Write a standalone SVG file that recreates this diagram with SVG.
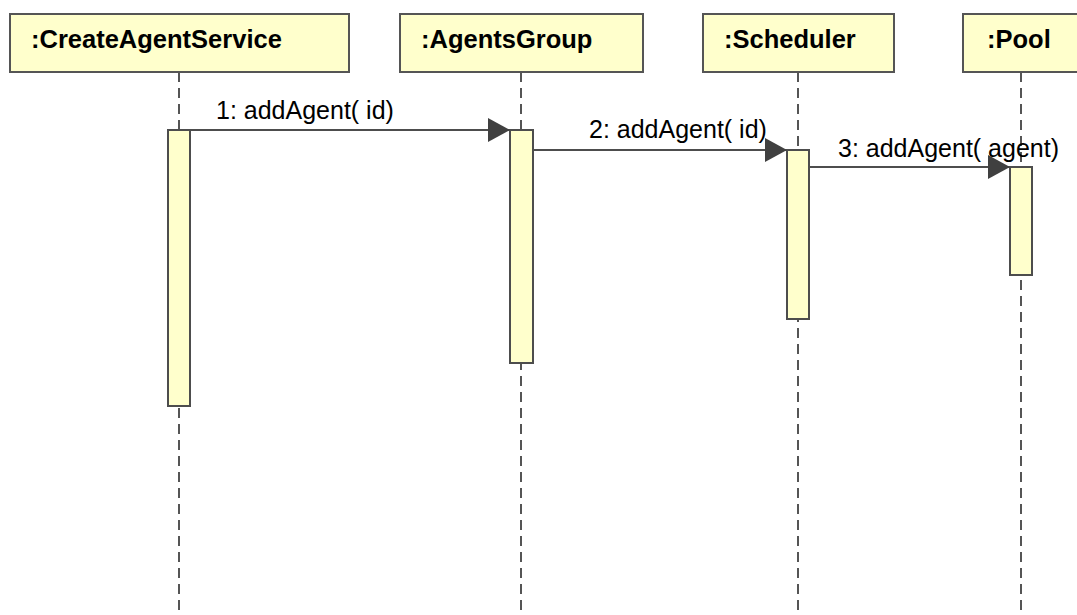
<svg xmlns="http://www.w3.org/2000/svg" width="1077" height="615" viewBox="0 0 1077 615">
  <style>
    .head { fill: #ffffcc; stroke: #555555; stroke-width: 2; }
    .act { fill: #ffffcc; stroke: #4d4d4d; stroke-width: 2; }
    .life { stroke: #555555; stroke-width: 2; stroke-dasharray: 10 6; fill: none; }
    .msg { stroke: #4d4d4d; stroke-width: 2; fill: none; marker-end: url(#arrow); }
    .title { font-family: "Liberation Sans", Arial, sans-serif; font-size: 25.5px; font-weight: bold; fill: #000; }
    .label { font-family: "Liberation Sans", Arial, sans-serif; font-size: 25px; fill: #000; }
  </style>
  <defs>
    <marker id="arrow" markerUnits="userSpaceOnUse" markerWidth="24" markerHeight="26" refX="22" refY="12" orient="auto">
      <path d="M0,0 L22,12 L0,24 Z" fill="#404040"/>
    </marker>
  </defs>
  <rect width="1077" height="615" fill="#ffffff"/>

  <!-- lifeline heads, dashed lines and activation bars -->
  <g id="createAgentService">
    <line class="life" x1="179" y1="72" x2="179" y2="615"/>
    <rect class="head" x="10" y="14" width="339" height="58"/>
    <text class="title" x="31" y="48">:CreateAgentService</text>
    <rect class="act" x="168" y="130" width="22" height="276"/>
  </g>
  <g id="agentsGroup">
    <line class="life" x1="521" y1="72" x2="521" y2="615"/>
    <rect class="head" x="400" y="14" width="243" height="58"/>
    <text class="title" x="421" y="48">:AgentsGroup</text>
    <rect class="act" x="510" y="130" width="23" height="233"/>
  </g>
  <g id="scheduler">
    <line class="life" x1="798" y1="72" x2="798" y2="615"/>
    <rect class="head" x="703" y="14" width="191" height="58"/>
    <text class="title" x="724" y="48">:Scheduler</text>
    <rect class="act" x="787" y="150" width="22" height="169"/>
  </g>
  <g id="pool">
    <line class="life" x1="1021" y1="72" x2="1021" y2="615"/>
    <rect class="head" x="963" y="14" width="130" height="58"/>
    <text class="title" x="987" y="48">:Pool</text>
    <rect class="act" x="1010" y="167" width="22" height="108"/>
  </g>

  <!-- messages -->
  <g id="connectors">
    <line class="msg" x1="190" y1="130" x2="510" y2="130"/>
    <text class="label" x="216" y="119">1: addAgent( id)</text>
    <line class="msg" x1="533" y1="150" x2="787" y2="150"/>
    <text class="label" x="589" y="138">2: addAgent( id)</text>
    <line class="msg" x1="809" y1="167" x2="1010" y2="167"/>
    <text class="label" x="838" y="157">3: addAgent( agent)</text>
  </g>
</svg>
